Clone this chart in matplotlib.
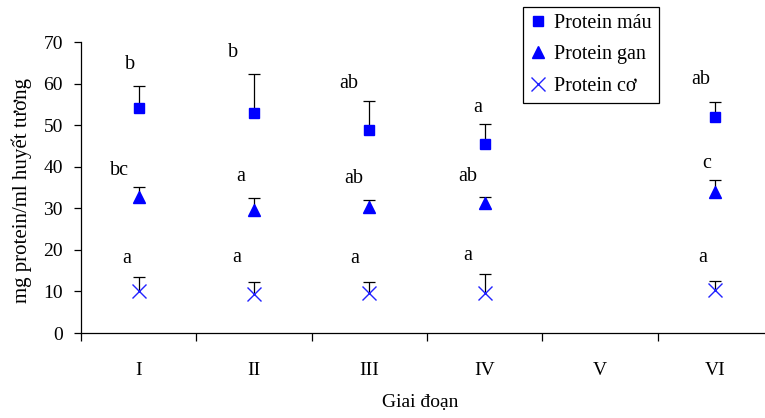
import numpy as np
import matplotlib
matplotlib.use('Agg')
import matplotlib.pyplot as plt
from matplotlib.ticker import FixedLocator, NullFormatter, FixedFormatter

plt.rcParams['font.family'] = ['Liberation Serif', 'DejaVu Serif']
plt.rcParams['font.size'] = 14

# Data
stages = ['I', 'II', 'III', 'IV', 'V', 'VI']
stage_pos = [0, 1, 2, 3, 5]          # stage V has no data

mau_mean = [54.1, 52.9, 48.8, 45.5, 52.0]
mau_err = [5.3, 9.4, 7.1, 4.7, 3.6]
gan_mean = [32.6, 29.7, 30.4, 31.3, 33.8]
gan_err = [2.5, 2.8, 1.6, 1.5, 3.0]
co_mean = [10.1, 9.3, 9.6, 9.7, 10.3]
co_err = [3.3, 3.0, 2.7, 4.5, 2.3]

mau_letters = ['b', 'b', 'ab', 'a', 'ab']
gan_letters = ['bc', 'a', 'ab', 'ab', 'c']
co_letters = ['a', 'a', 'a', 'a', 'a']

# letter offsets (pixels) from the top of each error bar
mau_off = [(-9, 22), (-21, 22), (-21, 17), (-7, 17), (-15, 22)]
gan_off = [(-19, 17), (-13, 21), (-16, 21), (-17, 20), (-9, 17)]
co_off = [(-12, 19), (-17, 24), (-15, 23), (-17, 18), (-13, 23)]

fig = plt.figure(figsize=(7.65, 4.18), dpi=100)
ax = fig.add_axes([81 / 765, 1 - 333 / 418, 692 / 765, 291 / 418])

x = np.array(stage_pos) + 0.5

series = [
    (mau_mean, mau_err, mau_letters, mau_off, dict(marker='s', markersize=7, color='#0000FF', label='Protein máu')),
    (gan_mean, gan_err, gan_letters, gan_off, dict(marker='^', markersize=8, color='#0000FF', label='Protein gan')),
    (co_mean, co_err, co_letters, co_off, dict(marker='x', markersize=10, markeredgewidth=1.0, color='#2222FF', label='Protein cơ')),
]

for mean, err, letters, offs, style in series:
    mean = np.array(mean)
    err = np.array(err)
    _, caps, _ = ax.errorbar(x, mean, yerr=[np.zeros_like(err), err], fmt='none',
                             ecolor='black', elinewidth=0.9, capsize=4, capthick=0.9, zorder=2)
    caps[0].set_visible(False)
    ax.plot(x, mean, linestyle='none', zorder=3, **style)
    for xi, top, lab, (dx, dy) in zip(x, mean + err, letters, offs):
        ax.annotate(lab, (xi, top), xytext=(dx, dy), textcoords='offset pixels',
                    ha='center', va='center', fontsize=14.5)

ax.set_xlim(0, 6)
ax.set_ylim(0, 70)
ax.set_yticks(np.arange(0, 71, 10))

ax.xaxis.set_major_locator(FixedLocator(np.arange(0, 7)))
ax.xaxis.set_major_formatter(NullFormatter())
ax.xaxis.set_minor_locator(FixedLocator(np.arange(6) + 0.5))
ax.xaxis.set_minor_formatter(FixedFormatter(stages))
ax.tick_params(axis='x', which='major', direction='out', length=6, width=0.9)
ax.tick_params(axis='x', which='minor', length=0, pad=21)
ax.tick_params(axis='y', direction='out', length=5, width=0.9, pad=8)

for s in ['top', 'right']:
    ax.spines[s].set_visible(False)
for s in ['left', 'bottom']:
    ax.spines[s].set_linewidth(0.9)

ax.set_ylabel('mg protein/ml huyết tương', y=0.49, labelpad=8, fontsize=15)
ax.set_xlabel('Giai đoạn', x=0.49, labelpad=11)

leg = ax.legend(loc='upper left', bbox_to_anchor=(0.639, 1.12), fancybox=False,
                edgecolor='black', framealpha=1, handlelength=0.8, handletextpad=0.4,
                borderpad=0.35, labelspacing=0.6, borderaxespad=0, fontsize=14.5)
leg.get_frame().set_linewidth(0.9)

fig.savefig('out.png', dpi=100)
